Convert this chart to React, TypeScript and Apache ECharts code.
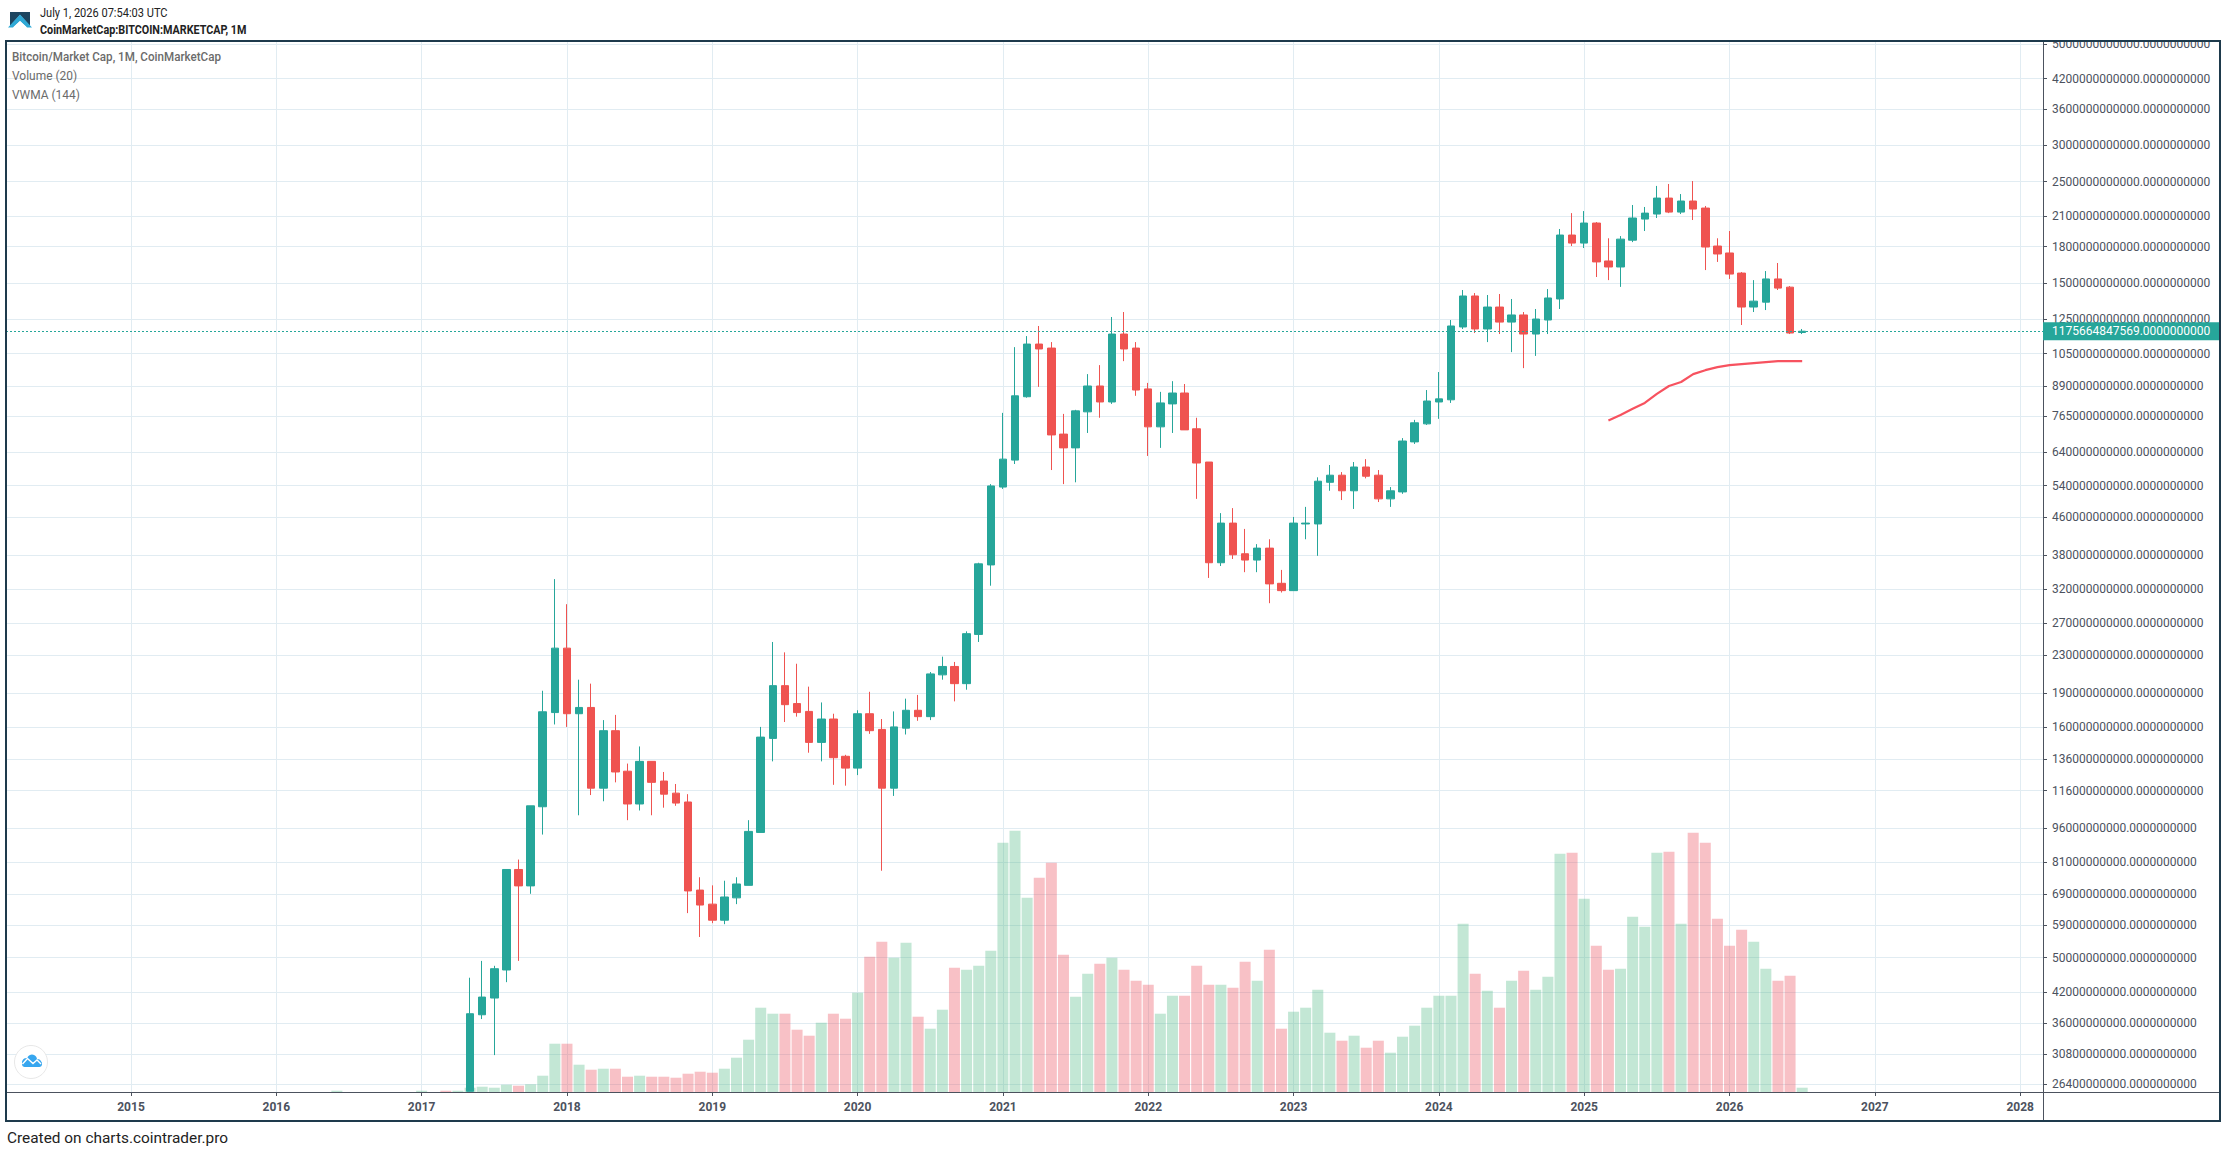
import React, { useEffect, useRef } from "react";
import * as echarts from "echarts";

const FONT = "Roboto";
const UP = "#26a69a";
const DOWN = "#ef5350";
const VOL_UP = "rgba(83,185,135,0.35)";
const VOL_DOWN = "rgba(235,77,92,0.35)";
const GRID = "#e1ecf2";
const AXIS = "#4c525e";
const FRAME = "#1e3a4c";

// month index 0 = 2015-01; candles start at 2017-05
const candleStart = 28;
const vwmaStart = 122;
const yearTicks = [0, 12, 24, 36, 48, 60, 72, 84, 96, 108, 120, 132, 144, 156];
const yearLabels = ["2015", "2016", "2017", "2018", "2019", "2020", "2021", "2022", "2023", "2024", "2025", "2026", "2027", "2028"];

// billions of USD
const priceTicks = [5000, 4200, 3600, 3000, 2500, 2100, 1800, 1500, 1250, 1050, 890, 765, 640, 540, 460, 380, 320, 270, 230, 190, 160, 136, 116, 96, 81, 69, 59, 50, 42, 36, 30.8, 26.4];

// the first candle runs off the bottom of the visible scale
const opens = [
  25.5, 37.5, 40.8, 47, 78, 71.8, 107, 172, 238, 171,
  176.5, 117.5, 157, 128, 108.5, 134.5, 121.8, 114.6, 109.6, 70.3,
  65.5, 60.4, 67.6, 72, 94, 151, 197, 180, 173, 148,
  166.5, 138, 130, 171, 158, 117.5, 159, 174, 168.5, 208,
  217, 199, 255, 362, 536, 614, 845, 1102, 1080, 700,
  653, 783, 892, 823, 1159, 1080, 879, 726, 815, 861,
  719, 608, 366, 447, 383, 371, 394, 330, 318, 445,
  445, 549, 569, 526, 593, 569, 505, 523, 673, 737,
  823, 832, 1201, 1404, 1189, 1328, 1231, 1276, 1159, 1244,
  1383, 1909, 1833, 2028, 1675, 1625, 1860, 2069, 2122, 2300,
  2143, 2266, 2187, 1806, 1744, 1576, 1328, 1361, 1530, 1468, 1168,
];
const closes = [
  37.7, 41, 47.3, 78, 71.8, 107.5, 172.7, 238, 171, 176.5,
  117.5, 157, 127.5, 108.5, 134.5, 121, 114, 109, 70, 65.2,
  60.4, 67.9, 72.5, 94.5, 152, 197, 179, 172, 148, 166.5,
  137, 130, 171, 157, 117.5, 160, 174, 168.5, 209, 217,
  199, 256, 364, 539, 617, 849, 1102, 1075, 697, 653,
  787, 892, 823, 1159, 1075, 874, 726, 819, 861, 715,
  605, 366, 447, 381, 371, 394, 329, 318, 447, 447,
  552, 569, 526, 593, 566, 505, 526, 676, 741, 827,
  836, 1207, 1404, 1189, 1328, 1231, 1276, 1159, 1250, 1390,
  1909, 1833, 2028, 1667, 1625, 1870, 2080, 2132, 2300, 2143,
  2266, 2176, 1797, 1735, 1568, 1328, 1368, 1530, 1461, 1165, 1175.664847569,
];
const lows = [
  25.5, 36.7, 30.6, 44.2, 49.2, 69, 93, 162, 160, 102.5,
  113.5, 110, 121, 100, 105, 102.5, 106.5, 107.5, 62.6, 55.5,
  59.5, 59.2, 65.5, 72, 94, 134.5, 164, 168.5, 140.5, 134.5,
  119.5, 119, 125.5, 154.5, 77.5, 113, 154, 165, 165.6, 203,
  182, 193, 245.5, 326, 531, 602, 841, 888, 584, 544,
  549, 704, 760, 815, 1011, 849, 627, 653, 704, 715,
  505, 339, 360, 373, 349, 349, 298.5, 315, 318, 412,
  379, 526, 502, 480, 560, 497, 485, 518, 666, 733,
  756, 819, 1189, 1165, 1113, 1159, 1058, 976, 1038, 1159,
  1315, 1806, 1788, 1545, 1521, 1470, 1842, 1948, 2080, 2132,
  2122, 2059, 1600, 1667, 1530, 1213, 1295, 1308, 1447, 1159, 1159,
];
const highs = [
  45.2, 49.2, 48, 78, 82, 107.5, 192, 337, 297, 203,
  199, 165.6, 170, 133, 145, 134.5, 127.5, 120, 114, 75,
  72, 73.7, 75, 100, 160, 245.5, 233, 220, 196, 181,
  171, 139, 174, 191, 166.5, 173, 184.5, 188, 211, 228,
  222, 259, 366, 544, 779, 1085, 1147, 1207, 1113, 775,
  791, 947, 991, 1263, 1295, 1113, 906, 866, 914, 901,
  760, 608, 470, 482, 434, 402, 412, 353, 461, 485,
  563, 599, 578, 608, 617, 584, 536, 686, 752, 874,
  957, 1244, 1447, 1425, 1411, 1418, 1383, 1295, 1315, 1454,
  1968, 2132, 2154, 2038, 1878, 1899, 2221, 2199, 2445, 2469,
  2347, 2506, 2210, 1878, 1948, 1584, 1521, 1592, 1658, 1476, 1189,
];
const vwma = [750, 771, 795, 819, 857, 892, 910, 947, 966, 981, 991, 996, 1001, 1006, 1011, 1011, 1011];

// month index 17, 24, 26, 27 are the only visible volumes before the first candle
const earlyVolumes = [0, 0, 0, 0, 0, 0, 0, 0, 0, 0, 0, 0, 0, 0, 0, 0, 0, 1.3, 0, 0, 0, 0, 0, 0, 1.3, 0, 1.3, 1.3];
const earlyDown = [26];
const volumes = [
  4.3, 5.3, 4.3, 7.3, 6.3, 7.7, 16.3, 48.3, 48.3, 27.3,
  22.3, 23.3, 23.3, 15.3, 16.3, 15.3, 15.3, 14.3, 18.3, 20.3,
  19.3, 23.3, 34.3, 52.3, 84.3, 78.3, 78.3, 62.3, 56.3, 69.3,
  78.3, 73.3, 99.3, 135.3, 150.3, 134.3, 149.3, 75.3, 63.3, 82.3,
  124.3, 122.3, 126.3, 141.3, 249.3, 261.3, 194.3, 214.3, 229.3, 137.3,
  95.3, 118.3, 128.3, 134.3, 122.3, 111.3, 107.3, 78.3, 96.3, 96.3,
  126.3, 107.3, 107.3, 104.3, 130.3, 111.3, 142.3, 63.3, 80.3, 84.3,
  102.3, 59.3, 51.3, 56.3, 44.3, 51.3, 39.3, 55.3, 66.3, 84.3,
  96.3, 96.3, 168.3, 118.3, 101.3, 84.3, 111.3, 121.3, 102.3, 115.3,
  238.3, 239.3, 193.3, 146.3, 122.3, 123.3, 175.3, 165.3, 239.3, 240.3,
  168.3, 259.3, 249.3, 173.3, 146.3, 162.3, 150.3, 123.3, 111.3, 116.3, 4.3,
];

const lastPrice = closes[closes.length - 1];
const priceText = (b: number) => `${Math.round(b * 1e9)}.0000000000`;

export default function App() {
  const ref = useRef<HTMLDivElement>(null);
  useEffect(() => {
    const chart = echarts.init(ref.current!, null, { renderer: "svg" });
    const candleData = opens.map((o, i) => [i + candleStart, o, closes[i], lows[i], highs[i]]);
    const earlyBars = earlyVolumes.map((v, i) => ({
      value: [i, v],
      itemStyle: { color: earlyDown.includes(i) ? VOL_DOWN : VOL_UP },
    }));
    const laterBars = volumes.map((v, i) => ({
      value: [i + candleStart, v],
      itemStyle: { color: closes[i] < opens[i] ? VOL_DOWN : VOL_UP },
    }));
    const textEl = (x: number, y: number, text: string, size: number, weight: any, fill: string, scaleX = 1) => ({
      type: "text",
      x,
      y,
      scaleX,
      z: 100,
      silent: true,
      style: { text, fontFamily: FONT, fontSize: size, fontWeight: weight, fill, textVerticalAlign: "middle", verticalAlign: "middle" },
    });
    chart.setOption({
      animation: false,
      backgroundColor: "#ffffff",
      grid: { left: 6, top: 41, width: 2037, height: 1051 },
      xAxis: {
        type: "value",
        min: -10.322,
        max: 157.886,
        axisLine: { onZero: false, lineStyle: { color: AXIS, width: 1 } },
        axisTick: { customValues: yearTicks, length: 4, lineStyle: { color: AXIS } },
        axisLabel: {
          customValues: yearTicks,
          margin: 9,
          color: AXIS,
          fontFamily: FONT,
          fontSize: 12,
          fontWeight: "bold",
          formatter: (v: number) => yearLabels[yearTicks.indexOf(v)] ?? "",
        },
        splitLine: { show: true, lineStyle: { color: GRID, width: 1 } },
      },
      yAxis: [
        {
          type: "log",
          logBase: 10,
          position: "right",
          min: 25.41,
          max: 5076,
          axisLine: { show: true, onZero: false, lineStyle: { color: AXIS, width: 1 } },
          axisTick: { show: true, customValues: priceTicks, length: 4, lineStyle: { color: AXIS } },
          axisLabel: {
            customValues: priceTicks,
            margin: 9,
            color: AXIS,
            fontFamily: FONT,
            fontSize: 12,
            formatter: (v: number) => priceText(v),
          },
          splitLine: { show: true, lineStyle: { color: GRID, width: 1 } },
        },
        {
          type: "value",
          min: 0,
          max: 1051,
          show: false,
          splitLine: { show: false },
        },
      ],
      series: [
        {
          type: "bar",
          name: "Volume (20)",
          yAxisIndex: 1,
          barWidth: 11,
          z: 1,
          silent: true,
          data: [...earlyBars, ...laterBars],
        },
        {
          type: "candlestick",
          name: "Bitcoin/Market Cap",
          yAxisIndex: 0,
          barWidth: 8,
          z: 3,
          silent: true,
          itemStyle: { color: UP, color0: DOWN, borderColor: UP, borderColor0: DOWN, borderWidth: 1 },
          data: candleData,
          markLine: {
            silent: true,
            symbol: "none",
            animation: false,
            z: 6,
            lineStyle: { color: UP, type: [2, 2], width: 1 },
            label: {
              show: true,
              position: "end",
              distance: 0,
              formatter: () => priceText(lastPrice),
              color: "#ffffff",
              fontFamily: FONT,
              fontSize: 12,
              backgroundColor: UP,
              padding: [3, 10, 3, 9],
            },
            data: [{ yAxis: lastPrice }],
          },
        },
        {
          type: "line",
          name: "VWMA (144)",
          yAxisIndex: 0,
          showSymbol: false,
          z: 4,
          silent: true,
          lineStyle: { color: "#f7525f", width: 2.2 },
          data: vwma.map((v, i) => [i + vwmaStart, v]),
        },
      ],
      graphic: [
        { type: "rect", z: 90, silent: true, shape: { x: 2045, y: 28, width: 176, height: 13 }, style: { fill: "#ffffff" } },
        { type: "line", z: 95, silent: true, shape: { x1: 2043.5, y1: 1092, x2: 2043.5, y2: 1120 }, style: { stroke: AXIS, lineWidth: 1 } },
        { type: "line", z: 95, silent: true, shape: { x1: 2043, y1: 1092.5, x2: 2220, y2: 1092.5 }, style: { stroke: AXIS, lineWidth: 1 } },
        { type: "rect", z: 99, silent: true, shape: { x: 6, y: 41, width: 2214, height: 1080 }, style: { fill: "none", stroke: FRAME, lineWidth: 2 } },
        { type: "polygon", z: 100, silent: true, shape: { points: [[10, 12], [30, 12], [30, 26], [20, 15], [10, 26]] }, style: { fill: "#1d4560" } },
        { type: "polygon", z: 100, silent: true, shape: { points: [[20, 14.5], [32, 27.5], [27, 27.5], [20, 21], [13, 27.5], [8, 27.5]] }, style: { fill: "#2fa9d6" } },
        { type: "polygon", z: 100, silent: true, shape: { points: [[20, 21], [27, 27.5], [13, 27.5]] }, style: { fill: "#ffffff" } },
        textEl(40, 13, "July 1, 2026 07:54:03 UTC", 13, "normal", "#222222", 0.85),
        textEl(40, 30, "CoinMarketCap:BITCOIN:MARKETCAP, 1M", 13, "bold", "#222222", 0.83),
        textEl(12, 57, "Bitcoin/Market Cap, 1M, CoinMarketCap", 13, 500, "#6b6b6b", 0.894),
        textEl(12, 75, "Volume (20)", 13, "normal", "#6b6b6b", 0.92),
        textEl(12, 94, "VWMA (144)", 13, "normal", "#6b6b6b", 0.92),
        textEl(7, 1138, "Created on charts.cointrader.pro", 15.4, "normal", "#222222"),
        { type: "circle", z: 100, silent: true, shape: { cx: 31, cy: 1062, r: 16.5 }, style: { fill: "#ffffff", stroke: "#e8e8e8", lineWidth: 1 } },
        { type: "circle", z: 101, silent: true, shape: { cx: 26.5, cy: 1062.5, r: 4.5 }, style: { fill: "#37a6ef" } },
        { type: "circle", z: 101, silent: true, shape: { cx: 32, cy: 1059.5, r: 5 }, style: { fill: "#37a6ef" } },
        { type: "circle", z: 101, silent: true, shape: { cx: 37.5, cy: 1063, r: 4 }, style: { fill: "#37a6ef" } },
        { type: "rect", z: 101, silent: true, shape: { x: 22, y: 1061, width: 20, height: 6, r: 3 }, style: { fill: "#37a6ef" } },
        { type: "polyline", z: 102, silent: true, shape: { points: [[22.5, 1064], [27.5, 1058.5], [33, 1063.5], [37, 1060], [41, 1064]] }, style: { stroke: "#ffffff", lineWidth: 1.4, fill: "none" } },
      ],
    });
    return () => chart.dispose();
  }, []);
  return (
    <div style={{ position: "fixed", left: 0, top: 0, width: 2226, height: 1152, overflow: "hidden", background: "#fff" }}>
      <div ref={ref} style={{ width: 2226, height: 1152 }} />
    </div>
  );
}
